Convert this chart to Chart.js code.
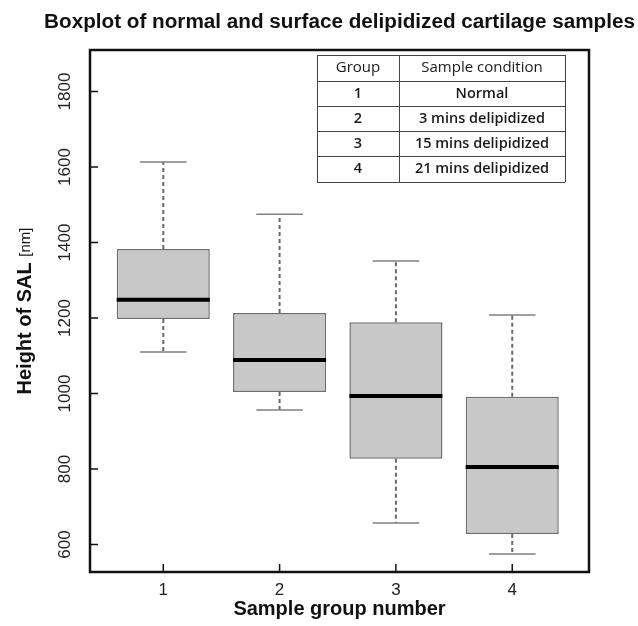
<!DOCTYPE html>
<html>
<head>
<meta charset="utf-8">
<script src="https://cdn.jsdelivr.net/npm/chart.js@4.4.0/dist/chart.umd.min.js"></script>
<style>
    body { margin: 0; background: #ffffff; }
    #wrap { width: 638px; height: 626px; }
</style>
</head>
<body>
<div id="wrap"><canvas id="myChart" width="638" height="626"></canvas></div>
<script>
// Data kelompok sampel
const groups = [1, 2, 3, 4];
const whiskerLow = [1110, 956, 657, 575];
const q1 = [1197, 1004, 827, 628];
const median = [1248, 1089, 993, 805];
const q3 = [1383, 1213, 1189, 991];
const whiskerHigh = [1613, 1475, 1351, 1208];

// Label sumbu
const yTicks = [600, 800, 1000, 1200, 1400, 1600, 1800];
const tableHeader = ['Group', 'Sample condition'];
const tableGroups = ['1', '2', '3', '4'];
const tableConditions = ['Normal', '3 mins delipidized', '15 mins delipidized', '21 mins delipidized'];

const boxData = groups.map((g, i) => ({ x: g, y: [q1[i], q3[i]] }));

// Plugin untuk menggambar whisker, median, bingkai, judul dan tabel
const boxplotExtras = {
    id: 'boxplotExtras',
    afterDatasetsDraw(chart) {
        const ctx = chart.ctx;
        const xs = chart.scales.x;
        const ys = chart.scales.y;
        const area = chart.chartArea;
        const meta = chart.getDatasetMeta(0);

        ctx.save();
        // whisker dan median
        meta.data.forEach((bar, i) => {
            const cx = bar.x;
            const half = bar.width / 2;
            ctx.strokeStyle = '#6a6a6a';
            ctx.lineWidth = 2;
            ctx.setLineDash([4, 3]);
            ctx.beginPath();
            ctx.moveTo(cx, ys.getPixelForValue(q3[i]));
            ctx.lineTo(cx, ys.getPixelForValue(whiskerHigh[i]));
            ctx.moveTo(cx, ys.getPixelForValue(q1[i]));
            ctx.lineTo(cx, ys.getPixelForValue(whiskerLow[i]));
            ctx.stroke();
            ctx.setLineDash([]);

            ctx.strokeStyle = '#808080';
            ctx.lineWidth = 1.5;
            ctx.beginPath();
            const capHalf = half / 2;
            let yh = ys.getPixelForValue(whiskerHigh[i]);
            let yl = ys.getPixelForValue(whiskerLow[i]);
            ctx.moveTo(cx - capHalf, yh);
            ctx.lineTo(cx + capHalf, yh);
            ctx.moveTo(cx - capHalf, yl);
            ctx.lineTo(cx + capHalf, yl);
            ctx.stroke();

            ctx.strokeStyle = '#000000';
            ctx.lineWidth = 4;
            ctx.beginPath();
            let ym = ys.getPixelForValue(median[i]);
            ctx.moveTo(cx - half, ym);
            ctx.lineTo(cx + half, ym);
            ctx.stroke();
        });

        // bingkai
        ctx.strokeStyle = '#111111';
        ctx.lineWidth = 2.5;
        ctx.strokeRect(area.left, area.top, area.right - area.left, area.bottom - area.top);

        // tick ke dalam
        ctx.lineWidth = 1.5;
        ctx.beginPath();
        groups.forEach(g => {
            const px = xs.getPixelForValue(g);
            ctx.moveTo(px, area.bottom);
            ctx.lineTo(px, area.bottom - 8);
        });
        yTicks.forEach(v => {
            const py = ys.getPixelForValue(v);
            ctx.moveTo(area.left, py);
            ctx.lineTo(area.left + 8, py);
        });
        ctx.stroke();

        // label sumbu y (diputar)
        ctx.fillStyle = '#222222';
        ctx.font = '17px "Liberation Sans", Arial, sans-serif';
        ctx.textAlign = 'center';
        ctx.textBaseline = 'middle';
        yTicks.forEach(v => {
            const py = ys.getPixelForValue(v);
            ctx.save();
            ctx.translate(65, py);
            ctx.rotate(-Math.PI / 2);
            ctx.fillText(String(v), 0, 0);
            ctx.restore();
        });

        // judul sumbu y
        ctx.save();
        ctx.translate(25, (area.top + area.bottom) / 2);
        ctx.rotate(-Math.PI / 2);
        ctx.fillStyle = '#111111';
        ctx.font = 'bold 20px "Liberation Sans", Arial, sans-serif';
        const partA = 'Height of SAL ';
        const wA = ctx.measureText(partA).width;
        ctx.font = '15px "Liberation Sans", Arial, sans-serif';
        const partB = '[nm]';
        const wB = ctx.measureText(partB).width;
        ctx.textAlign = 'left';
        ctx.font = 'bold 20px "Liberation Sans", Arial, sans-serif';
        ctx.fillText(partA, -(wA + wB) / 2, 0);
        ctx.font = '15px "Liberation Sans", Arial, sans-serif';
        ctx.fillText(partB, -(wA + wB) / 2 + wA, 1);
        ctx.restore();

        // judul utama dan judul sumbu x
        const midX = (area.left + area.right) / 2;
        ctx.textAlign = 'center';
        ctx.fillStyle = '#111111';
        ctx.font = 'bold 20.7px "Liberation Sans", Arial, sans-serif';
        ctx.fillText('Boxplot of normal and surface delipidized cartilage samples', midX, 22);
        ctx.font = 'bold 20px "Liberation Sans", Arial, sans-serif';
        ctx.fillText('Sample group number', midX, 609);

        // tabel keterangan
        const tLeft = 317, tRight = 565, tSplit = 399;
        const rowsY = [55, 81, 106, 131, 156, 182];
        ctx.strokeStyle = '#444444';
        ctx.lineWidth = 1;
        ctx.fillStyle = '#ffffff';
        ctx.fillRect(tLeft, rowsY[0], tRight - tLeft, rowsY[5] - rowsY[0]);
        ctx.beginPath();
        rowsY.forEach(ry => {
            ctx.moveTo(tLeft, ry + 0.5);
            ctx.lineTo(tRight, ry + 0.5);
        });
        [tLeft, tSplit, tRight].forEach(cx => {
            ctx.moveTo(cx + 0.5, rowsY[0]);
            ctx.lineTo(cx + 0.5, rowsY[5]);
        });
        ctx.stroke();

        ctx.fillStyle = '#1a1a1a';
        ctx.font = '15px "Open Sans", sans-serif';
        const c1 = (tLeft + tSplit) / 2, c2 = (tSplit + tRight) / 2;
        ctx.fillText(tableHeader[0], c1, (rowsY[0] + rowsY[1]) / 2);
        ctx.fillText(tableHeader[1], c2, (rowsY[0] + rowsY[1]) / 2);
        ctx.font = '600 14.5px "Open Sans", sans-serif';
        tableGroups.forEach((g, i) => {
            const cy = (rowsY[i + 1] + rowsY[i + 2]) / 2;
            ctx.fillText(g, c1, cy);
            ctx.fillText(tableConditions[i], c2, cy);
        });
        ctx.restore();
    }
};

var ctx = document.getElementById('myChart').getContext('2d');
var myChart = new Chart(ctx, {
    type: 'bar',
    data: {
        datasets: [{
            data: boxData,
            backgroundColor: '#c8c8c8',
            borderColor: '#6e6e6e',
            borderWidth: 1.5,
            borderSkipped: false,
            barPercentage: 1,
            categoryPercentage: 0.8
        }]
    },
    options: {
        responsive: false,
        animation: false,
        devicePixelRatio: 1,
        layout: { padding: { left: 0, top: 50, right: 49, bottom: 0 } },
        plugins: {
            legend: { display: false },
            tooltip: { enabled: false }
        },
        scales: {
            x: {
                type: 'linear',
                offset: false,
                min: 0.37,
                max: 4.66,
                grid: { display: false, drawTicks: false, offset: false },
                border: { display: false },
                afterBuildTicks: function(scale) {
                    scale.ticks = groups.map(g => ({ value: g }));
                },
                afterFit: function(scale) { scale.height = 54; },
                ticks: {
                    color: '#222222',
                    padding: 8,
                    maxRotation: 0,
                    font: { family: '"Liberation Sans", Arial, sans-serif', size: 17 }
                }
            },
            y: {
                min: 527,
                max: 1910,
                grid: { display: false, drawTicks: false },
                border: { display: false },
                ticks: { display: false },
                afterFit: function(scale) { scale.width = 90; }
            }
        }
    },
    plugins: [boxplotExtras]
});
</script>
</body>
</html>
